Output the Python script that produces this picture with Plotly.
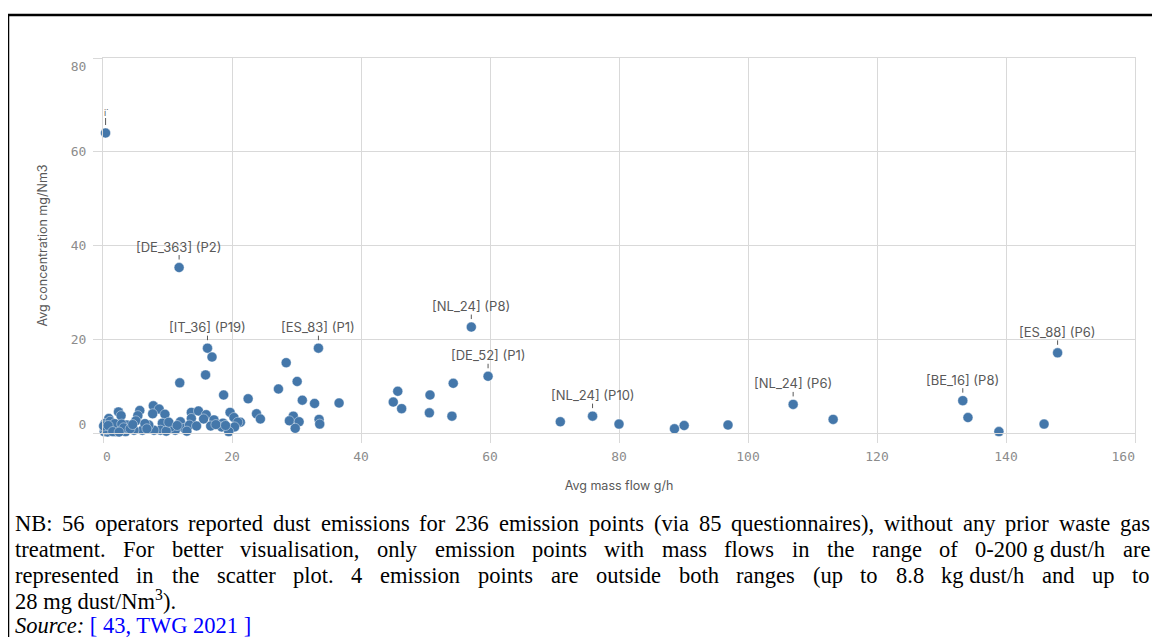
import plotly.graph_objects as go

# ---------------- data ----------------
mass_flow = [
    0.4, 11.8, 16.2, 16.9, 15.9, 33.4, 28.4, 30.1, 27.2, 22.5, 30.9, 32.8, 36.6,
    23.8, 24.4, 29.5, 28.9, 30.4, 29.8, 33.5, 33.6, 21.3, 11.9, 18.7,
    7.8, 8.7, 7.7, 9.6, 2.4, 2.8, 5.7, 5.4, 5.1, 13.7, 14.8, 16.0, 13.7, 15.6,
    19.7, 20.3, 20.9, 17.2, 18.6, 16.7, 18.4, 20.4, 19.5, 12.0, 12.6, 13.4,
    11.2, 10.5, 9.2, 8.9, 7.9, 7.1, 6.1, 4.8, 3.7, 3.5, 2.2, 0.9,
    0.2, 0.5, 0.3, 1.0, 1.3, 1.6, 0.7, 1.9, 2.2, 2.6, 1.1, 0.4, 1.8, 2.9, 3.2,
    0.1, 0.8, 1.5, 2.5, 4.2, 4.6, 6.5, 6.8, 9.8, 10.2, 11.5, 13.0, 14.5, 17.5, 19.0,
    57.1, 59.7, 54.3, 45.7, 50.7, 45.0, 46.3, 50.6, 54.1, 70.9, 75.9, 80.0,
    88.6, 90.1, 96.9, 107.0, 113.2, 133.3, 134.1, 138.9, 145.9, 148.0,
]
concentration = [
    64.0, 35.3, 18.1, 16.2, 12.4, 18.1, 15.0, 11.0, 9.4, 7.3, 7.0, 6.3, 6.4,
    4.1, 3.0, 3.6, 2.6, 2.4, 1.0, 2.9, 1.9, 2.3, 10.7, 8.1,
    5.8, 5.1, 4.1, 4.0, 4.5, 3.7, 4.8, 3.7, 2.6, 4.4, 4.7, 3.9, 3.1, 3.0,
    4.4, 3.3, 2.3, 2.8, 2.1, 1.5, 1.3, 1.3, 0.3, 2.4, 1.0, 1.7,
    0.6, 1.3, 2.1, 0.6, 0.6, 1.7, 0.6, 0.6, 1.7, 0.3, 0.3, 3.1,
    0.3, 1.2, 2.0, 0.6, 1.8, 1.0, 0.2, 0.3, 1.4, 0.8, 2.5, 0.7, 2.0, 1.9, 1.1,
    1.5, 1.6, 0.3, 0.2, 0.9, 1.8, 2.0, 0.9, 0.4, 2.3, 1.6, 0.4, 1.5, 1.8, 1.6,
    22.6, 12.1, 10.6, 8.9, 8.1, 6.6, 5.2, 4.3, 3.6, 2.4, 3.6, 1.9,
    0.9, 1.6, 1.7, 6.1, 2.9, 6.9, 3.3, 0.3, 1.9, 17.1,
]
# labels of the annotated points, keyed by (mass flow, concentration)
labelled_points = {
    (0.4, 64.0): "i\u02d9",
    (11.8, 35.3): "[DE_363] (P2)",
    (16.2, 18.1): "[IT_36] (P19)",
    (33.4, 18.1): "[ES_83] (P1)",
    (57.1, 22.6): "[NL_24] (P8)",
    (59.7, 12.1): "[DE_52] (P1)",
    (75.9, 3.6): "[NL_24] (P10)",
    (107.0, 6.1): "[NL_24] (P6)",
    (133.3, 6.9): "[BE_16] (P8)",
    (148.0, 17.1): "[ES_88] (P6)",
}
point_labels = [labelled_points.get((x, y), "") for x, y in zip(mass_flow, concentration)]

x_ticks = [0, 20, 40, 60, 80, 100, 120, 140, 160]
y_ticks = [0, 20, 40, 60, 80]
NB = "\u00a0"
# edge tick labels are nudged inward, as in the reference
x_ticktext = [NB + "0", "20", "40", "60", "80", "100", "120", "140", "160" + NB * 3]
y_ticktext = ["0<br>" + NB, "20", "40", "60", NB + "<br>80"]

note_lines = [
    "NB: 56 operators reported dust emissions for 236 emission points (via 85 questionnaires), without any prior waste gas",
    "treatment. For better visualisation, only emission points with mass flows in the range of 0-200\u00a0g\u00a0dust/h are",
    "represented in the scatter plot. 4 emission points are outside both ranges (up to 8.8 kg\u00a0dust/h and up to",
]
note_last = "28 mg dust/Nm<sup>3</sup>)."
source_line = "<i>Source:</i> <span style='color:#0000ff'>[ 43, TWG 2021 ]</span>"

# ---------------- layout geometry ----------------
OFF = 8                      # page body margin in the browser
W, H = 1160 - OFF, 637 - OFF
ML, MR, MT, MB = 95, 25, 50, 204
PW, PH = W - ML - MR, H - MT - MB


def pp(px, py):
    """page pixel -> paper coordinates"""
    fx, fy = px - OFF, py - OFF
    return (fx - ML) / PW, (H - MB - fy) / PH


# Times / Liberation Serif advance widths (1/1000 em)
AFM = {' ': 250, '\u00a0': 250, ':': 278, '(': 333, ')': 333, ',': 250, '.': 250, '-': 333, '/': 278,
       'N': 722, 'B': 667, 'F': 556,
       'a': 444, 'b': 500, 'c': 444, 'd': 500, 'e': 444, 'f': 333, 'g': 500, 'h': 500, 'i': 278,
       'j': 278, 'k': 500, 'l': 278, 'm': 778, 'n': 500, 'o': 500, 'p': 500, 'q': 500, 'r': 333,
       's': 389, 't': 278, 'u': 500, 'v': 500, 'w': 722, 'x': 500, 'y': 500, 'z': 444}
for d in "0123456789":
    AFM[d] = 500


def text_w(s, fs):
    return sum(AFM.get(c, 500) for c in s) / 1000 * fs


BLUE = "#4477aa"
GRID = "#d9d9d9"
TICKC = "#8c8c8c"
LABC = "#595959"

fig = go.Figure()
fig.add_trace(go.Scatter(
    x=mass_flow, y=concentration, mode="markers",
    marker=dict(size=10, color=BLUE, line=dict(width=0.6, color="rgba(255,255,255,0.7)")),
    cliponaxis=False, hoverinfo="skip",
))

for x, y, lab in zip(mass_flow, concentration, point_labels):
    if lab:
        fig.add_annotation(
            x=x, y=y, xref="x", yref="y", text=lab, showarrow=True,
            arrowhead=0, arrowwidth=1, arrowcolor=LABC, ax=0, ay=-21, standoff=8,
            font=dict(family="Inter", size=13 if len(lab) > 3 else 9, color=LABC),
            borderpad=0,
        )

# note text (justified lines)
FS = 22.5
left_px, right_px = 15, 1150
line_y = [523, 549, 575]
for line, ly in zip(note_lines, line_y):
    words = line.split(" ")
    widths = [text_w(wd, FS) for wd in words]
    gap = (right_px - left_px - sum(widths)) / (len(words) - 1)
    cx = left_px
    for wd, ww in zip(words, widths):
        xp, yp = pp(cx, ly)
        fig.add_annotation(x=xp, y=yp, xref="paper", yref="paper", text=wd, showarrow=False,
                           xanchor="left", yanchor="middle", borderpad=0, borderwidth=0,
                           font=dict(family="Liberation Serif", size=FS, color="black"))
        cx += ww + gap

for txt, ly in [(note_last, 600), (source_line, 625)]:
    xp, yp = pp(left_px, ly)
    fig.add_annotation(x=xp, y=yp, xref="paper", yref="paper", text=txt, showarrow=False,
                       xanchor="left", yanchor="middle", borderpad=0, borderwidth=0,
                       font=dict(family="Liberation Serif", size=FS, color="black"))

# black frame (top and left)
x0, y0 = pp(8, 15)
x1, y1 = pp(1165, 645)
fig.add_shape(type="line", xref="paper", yref="paper", x0=x0, x1=x1, y0=y0, y1=y0,
              line=dict(color="black", width=2.5))
fig.add_shape(type="line", xref="paper", yref="paper", x0=x0, x1=x0, y0=y0, y1=y1,
              line=dict(color="black", width=2.5))

axis_common = dict(
    showgrid=True, gridcolor=GRID, gridwidth=1, zeroline=False,
    showline=True, linecolor=GRID, linewidth=1, mirror=True,
    ticks="outside", ticklen=9, tickcolor=GRID, tickwidth=1,
    tickfont=dict(family="DejaVu Sans Mono", size=13, color=TICKC),
)
fig.update_xaxes(range=[0, 160], tickvals=x_ticks, ticktext=x_ticktext, ticklabelstandoff=2,
                 **axis_common,
                 title=dict(text="Avg mass flow g/h", standoff=18,
                            font=dict(family="Inter", size=12.5, color=LABC)))
fig.update_yaxes(range=[0, 80], tickvals=y_ticks, ticktext=y_ticktext, ticklabelstandoff=4,
                 **axis_common,
                 title=dict(text="Avg concentration mg/Nm3", standoff=20,
                            font=dict(family="Inter", size=12.5, color=LABC)))

fig.update_layout(
    width=W, height=H, autosize=False,
    margin=dict(l=ML, r=MR, t=MT, b=MB, autoexpand=False),
    paper_bgcolor="white", plot_bgcolor="white",
    showlegend=False,
)

fig.write_html("out.html")
